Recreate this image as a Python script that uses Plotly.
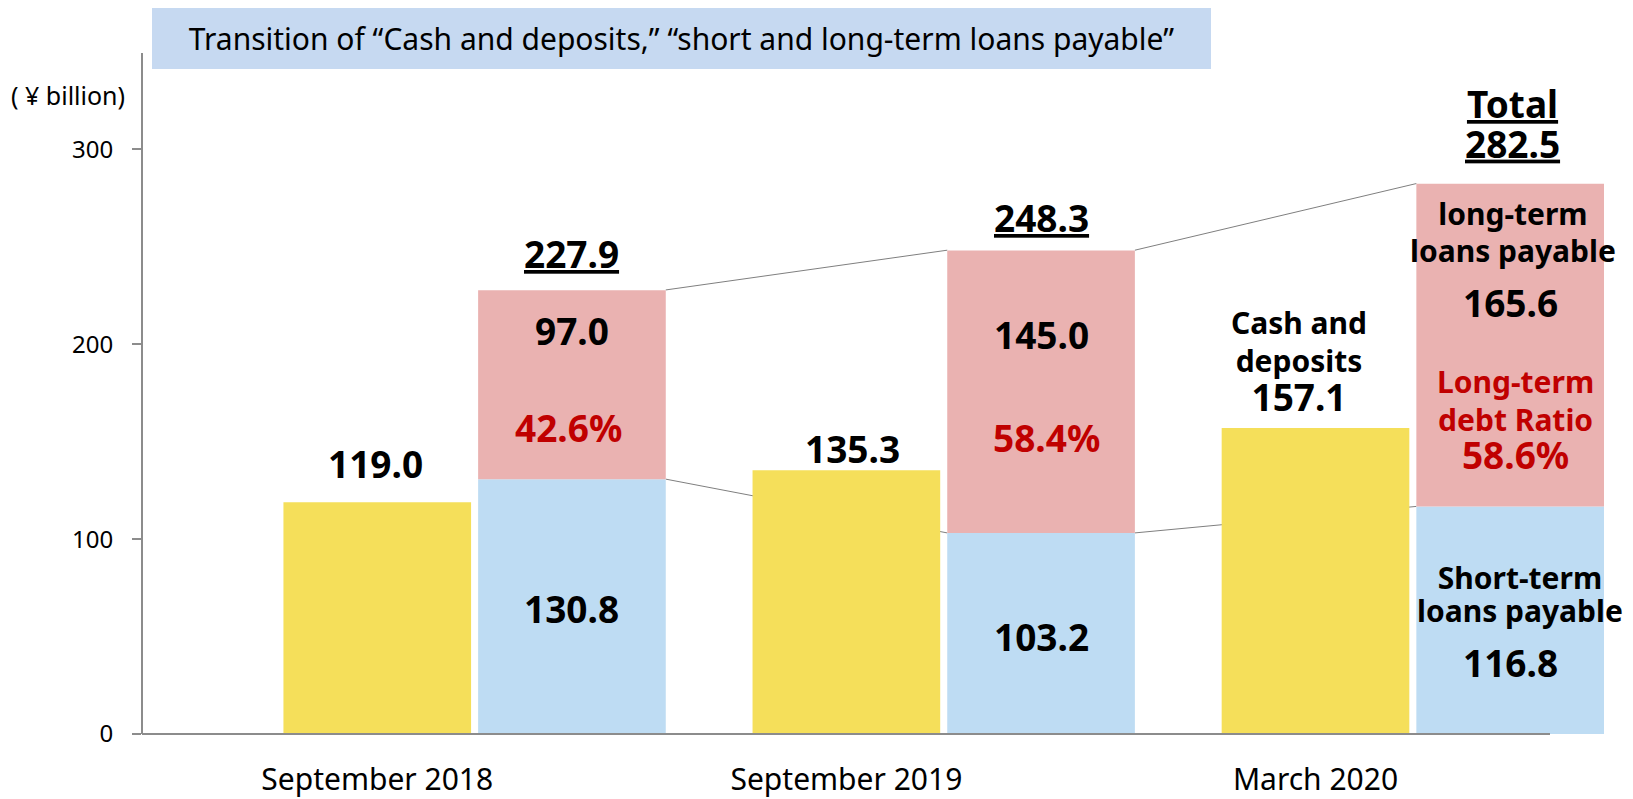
import plotly.graph_objects as go

# ---------------- data ----------------
categories = ["September 2018", "September 2019", "March 2020"]
cash_deposits = [119.0, 135.3, 157.1]
short_term_loans = [130.8, 103.2, 116.8]
long_term_loans = [97.0, 145.0, 165.6]
total_loans = [227.9, 248.3, 282.5]
long_term_ratio = [42.6, 58.4, 58.6]
y_ticks = [0, 100, 200, 300]

title_text = "Transition of \u201cCash and deposits,\u201d \u201cshort and long-term loans payable\u201d"
unit_text = "( \u00a5 billion)"

# ---------------- style ----------------
YELLOW = "#F5DF5A"
BLUE = "#BEDCF3"
PINK = "#EAB2B1"
RED = "#C00000"
AXIS = "#8C8C8C"
FONT = "Noto Sans"
NUM = 37   # number label size
TXT = 30   # word label size

OFF = 0.415   # offset of loans bar from cash bar (x units)
W = 0.40      # bar width

# plot area in pixels
L, R, T, B = 142.3, 29, 52.7, 64.7
FIG_W, FIG_H = 1633, 799
PW = FIG_W - L - R
PH = FIG_H - T - B

n = len(categories)
xc = list(range(n))
xl = [i + OFF for i in xc]

fig = go.Figure()

# connecting lines (behind bars)
lx, ly_top, ly_bot = [], [], []
for i in range(n - 1):
    lx += [xl[i] + W / 2, xl[i + 1] - W / 2, None]
    ly_top += [total_loans[i], total_loans[i + 1], None]
    ly_bot += [short_term_loans[i], short_term_loans[i + 1], None]
for yy in (ly_top, ly_bot):
    fig.add_trace(go.Scatter(x=lx, y=yy, mode="lines",
                             line=dict(color="#7F7F7F", width=1),
                             hoverinfo="skip", showlegend=False, zorder=0))

fig.add_trace(go.Bar(x=xc, y=cash_deposits, width=W, marker_color=YELLOW,
                     marker_line_width=0, name="Cash and deposits", zorder=1))
fig.add_trace(go.Bar(x=xl, y=short_term_loans, width=W, marker_color=BLUE,
                     marker_line_width=0, name="Short-term loans payable", zorder=1))
fig.add_trace(go.Bar(x=xl, y=long_term_loans, base=short_term_loans, width=W,
                     marker_color=PINK, marker_line_width=0,
                     name="long-term loans payable", zorder=1))

annotations = []


def block(x, y, lines, base=NUM, color="black", dx=0):
    """lines: list of (text, size). base font size sets the line spacing."""
    txt = "<br>".join(f"<span style='font-size:{s}px'><b>{t}</b></span>" for t, s in lines)
    annotations.append(dict(x=x, y=y, xref="x", yref="y", text=txt,
                            showarrow=False, xshift=dx, align="center",
                            font=dict(family=FONT, size=base, color=color),
                            xanchor="center", yanchor="middle"))


def ann(x, y, text, size=NUM, color="black", dx=0):
    block(x, y, [(text, size)], base=size, color=color, dx=dx)


# cash labels
ann(xc[0], cash_deposits[0] + 20.0, f"{cash_deposits[0]:.1f}", dx=-2)
ann(xc[1], cash_deposits[1] + 11.4, f"{cash_deposits[1]:.1f}", dx=6)
block(xc[2], cash_deposits[2] + 33.7,
      [("Cash and", TXT), ("deposits", TXT), (f"{cash_deposits[2]:.1f}", NUM)],
      base=29.5, dx=-16)

# totals
ann(xl[0], total_loans[0] + 18.8, f"<u>{total_loans[0]:.1f}</u>")
ann(xl[1], total_loans[1] + 16.7, f"<u>{total_loans[1]:.1f}</u>")
block(xl[2], total_loans[2] + 31.0,
      [("<u>Total</u>", NUM), (f"<u>{total_loans[2]:.1f}</u>", NUM)], base=30.5, dx=2)

# long-term values & ratios
ann(xl[0], short_term_loans[0] + 76.1, f"{long_term_loans[0]:.1f}")
ann(xl[0], short_term_loans[0] + 26.5, f"{long_term_ratio[0]:.1f}%", color=RED, dx=-3)
ann(xl[1], short_term_loans[1] + 101.6, f"{long_term_loans[1]:.1f}")
ann(xl[1], short_term_loans[1] + 49.1, f"{long_term_ratio[1]:.1f}%", color=RED, dx=5)
block(xl[2], short_term_loans[2] + 140.6,
      [("long-term", TXT), ("loans payable", TXT)], base=28.2, dx=3)
ann(xl[2], short_term_loans[2] + 104.7, f"{long_term_loans[2]:.1f}")
block(xl[2], short_term_loans[2] + 43.9,
      [("Long-term", TXT), ("debt Ratio", TXT), (f"{long_term_ratio[2]:.1f}%", NUM)],
      base=29.1, color=RED, dx=5)

# short-term values
ann(xl[0], short_term_loans[0] - 66.5, f"{short_term_loans[0]:.1f}")
ann(xl[1], short_term_loans[1] - 53.1, f"{short_term_loans[1]:.1f}")
block(xl[2], short_term_loans[2] - 44.9,
      [("Short-term", TXT), ("loans payable", TXT)], base=25.7, dx=10)
ann(xl[2], short_term_loans[2] - 80.2, f"{short_term_loans[2]:.1f}")

# unit label
annotations.append(dict(x=0, y=328.0, xref="paper", yref="y", text=unit_text,
                        showarrow=False, xanchor="right", yanchor="middle", xshift=-15,
                        font=dict(family=FONT, size=25, color="black")))

# title box (center at pixel 681.5, 38.5)
annotations.append(dict(x=(681.5 - L) / PW, y=(FIG_H - B - 38.5) / PH,
                        xref="paper", yref="paper", text=title_text,
                        showarrow=False, font=dict(family=FONT, size=30, color="black"),
                        bgcolor="#C6D9F1", width=1059, height=61, borderpad=0,
                        borderwidth=0, align="center",
                        xanchor="center", yanchor="middle"))

shapes = [
    # y-axis line
    dict(type="line", xref="paper", yref="paper", x0=0, x1=0, y0=0, y1=1,
         line=dict(color=AXIS, width=2), layer="above"),
    # x-axis line (ends under the last bar as in the original)
    dict(type="line", xref="paper", yref="paper", x0=0, x1=(1550 - L) / PW, y0=0, y1=0,
         line=dict(color=AXIS, width=2), layer="above"),
]

fig.update_layout(
    template="none",
    width=FIG_W, height=FIG_H,
    margin=dict(l=L, r=R, t=T, b=B, pad=0, autoexpand=False),
    paper_bgcolor="white", plot_bgcolor="rgba(0,0,0,0)",
    font=dict(family=FONT, color="black"),
    barmode="overlay",
    showlegend=False,
    annotations=annotations,
    shapes=shapes,
    xaxis=dict(range=[-0.5015, 2.615], tickvals=xc, ticktext=categories,
               automargin=False,
               showgrid=False, zeroline=False, showline=False, ticks="",
               ticklabelstandoff=25,
               tickfont=dict(family=FONT, size=30, color="black")),
    yaxis=dict(range=[0, 349.5], tickvals=y_ticks, showgrid=False, zeroline=False,
               automargin=False,
               showline=False, ticks="outside",
               ticklen=9, tickcolor=AXIS, tickwidth=2, ticklabelstandoff=14,
               tickfont=dict(family=FONT, size=24, color="black")),
)

# remove the browser's default page margin so the figure sits at the window origin
fig.write_html(
    "out.html",
    config={"displayModeBar": False},
    post_script="document.documentElement.style.margin='0';"
                "document.body.style.margin='0';"
                "document.documentElement.style.overflow='hidden';"
                "document.body.style.overflow='hidden';",
)
